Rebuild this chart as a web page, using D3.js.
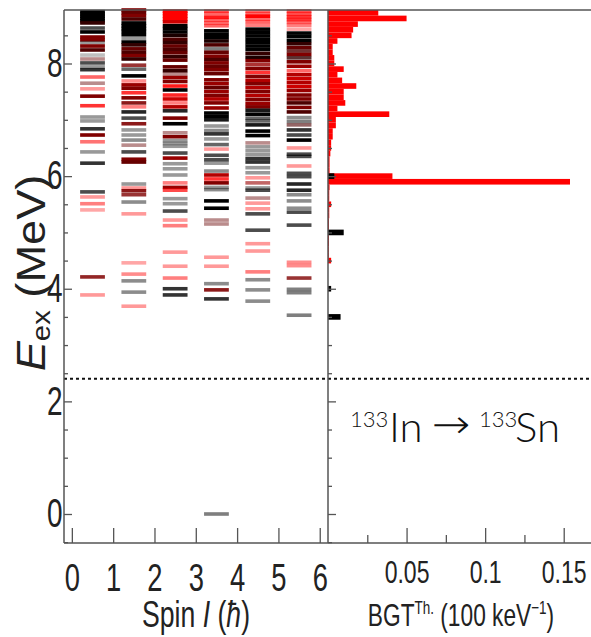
<!DOCTYPE html>
<html>
<head>
<meta charset="utf-8">
<script src="https://cdn.jsdelivr.net/npm/d3@7"></script>
<style>
  body { margin: 0; background: #fff; }
  svg { display: block; }
  .axis text { font-family: "Liberation Sans", Arial, sans-serif; fill: #222; }
  .axis line { stroke: #555; stroke-width: 1.3; }
  .axis path { display: none; }
</style>
</head>
<body>
<div id="chart"></div>
<script>
/* ********* ********* ********* ********* *********
 * Data
 * ********* ********* ********* ********* ********* */
// spin of each level column (hbar)
var spins = [0.5, 1.5, 2.5, 3.5, 4.5, 5.5];

// levels: [E_ex (MeV), red fraction 0..1, weight 0..1]
var levels_1_2 = [
  [8.92,0,1],[8.88,0,1],[8.84,0,1],[8.80,0,1],[8.76,0,1],[8.72,0.2,1],
  [8.63,0,0.7],[8.56,0,1],[8.47,0.5,1],[8.42,0.5,1],[8.37,0,0.4],[8.31,0.5,1],[8.24,0.3,1],
  [8.15,0,0.25],[8.08,0.4,0.45],[8.01,0,0.7],[7.94,0,0.4],[7.89,0,0.8],
  [7.76,1,0.6],[7.65,0.4,0.45],[7.55,1,0.4],[7.42,0.5,1],[7.25,1,0.8],
  [7.05,0,0.4],[6.98,0,0.4],[6.84,0,0.8],[6.73,0.5,1],[6.61,1,0.55],[6.43,0,0.4],[6.23,0,0.8],
  [5.72,0,0.7],[5.63,1,0.4],[5.51,1,0.5],[5.40,1,0.35],[4.21,0.5,0.85],[3.89,1,0.4]
];
var levels_3_2 = [
  [8.95,0.5,1],[8.90,0.4,1],[8.85,0.5,1],[8.79,0.3,1],
  [8.72,0,1],[8.67,0,1],[8.62,0,1],[8.57,0,1],[8.51,0,1],[8.44,0,0.4],[8.38,0,1],[8.33,0.2,1],
  [8.26,0.4,1],[8.20,0.3,1],[8.14,0.5,1],[8.08,0.2,1],
  [7.97,0.5,0.8],[7.90,0,0.6],[7.78,0,1],[7.69,1,0.45],[7.62,0.6,1],[7.56,0.5,1],[7.48,1,0.8],
  [7.39,0.5,1],[7.30,0.5,0.9],[7.23,1,0.5],[7.14,0,0.85],
  [7.03,0,0.7],[6.93,0.5,0.9],[6.82,0,0.4],[6.73,0,0.4],[6.64,0,0.45],[6.55,0.4,0.45],[6.43,0,0.7],
  [6.30,0.5,1],[6.25,0.4,1],
  [5.86,0,0.4],[5.79,1,0.4],[5.74,0.5,0.9],[5.67,0.5,0.8],[5.54,0,0.45],[5.33,1,0.4],
  [4.46,1,0.35],[4.26,1,0.45],[4.14,0,0.45],[3.94,0,0.45],[3.69,1,0.4]
];
var levels_5_2 = [
  [8.93,1,1],[8.89,1,1],[8.84,1,1],[8.79,1,1],[8.74,0.8,1],
  [8.67,0,1],[8.62,0,1],[8.56,0,1],[8.50,0.1,1],
  [8.43,0.3,1],[8.37,0.2,1],[8.31,0.4,1],[8.25,0.3,1],[8.19,0.4,1],[8.12,0.2,1],[8.06,0.4,1],
  [7.94,0.4,1],[7.87,0.2,1],[7.81,0.4,0.45],[7.75,0.6,1],[7.68,0.5,1],[7.60,1,0.9],[7.53,0,1],
  [7.44,1,0.85],[7.37,0.8,1],[7.30,1,0.5],[7.23,0.7,1],[7.16,0,0.85],[7.03,0.5,1],[6.93,0,1],
  [6.77,0.4,0.45],[6.70,0.5,1],[6.63,0,0.4],[6.58,0,0.4],[6.53,0,0.4],[6.41,0,0.7],[6.32,0.6,1],
  [6.22,0,0.4],[6.13,0,0.4],[6.02,0,0.4],
  [5.88,1,0.5],[5.80,0.6,1],[5.75,1,0.7],[5.60,0,0.4],[5.51,0,0.4],[5.38,0,0.7],[5.22,1,0.4],[5.12,1,0.5],
  [4.65,1,0.4],[4.40,1,0.4],[4.19,1,0.5],[4.00,0,0.8],[3.89,0,0.8]
];
var levels_7_2 = [
  [8.93,1,0.7],[8.88,1,0.6],[8.82,1,0.9],[8.77,1,0.6],[8.72,1,0.6],[8.67,1,0.6],
  [8.58,0,1],[8.52,0,1],[8.46,0,1],[8.40,0.1,1],[8.33,0.3,1],[8.26,0,0.5],
  [8.20,0.4,1],[8.13,0.5,1],[8.07,0.3,1],[8.01,0.5,1],[7.95,0.4,1],[7.89,0.5,1],[7.82,0.4,1],
  [7.71,0.5,1],[7.64,0.6,1],[7.57,0.4,1],[7.50,0.6,1],[7.43,0.5,1],[7.37,0.7,1],[7.30,0.5,1],[7.21,0.6,1],
  [7.12,0,1],[7.06,0,1],[7.00,0,0.9],[6.89,0,0.4],[6.81,0,0.45],[6.75,0,0.8],[6.66,0,0.4],[6.56,0,0.6],
  [6.48,1,0.4],[6.37,0,0.7],[6.29,0,0.7],[6.23,0,0.4],[6.09,0,0.45],
  [6.02,0.7,1],[5.95,1,0.8],[5.88,0.5,1],[5.80,0,0.4],[5.76,0,0.45],[5.56,0,1],[5.43,0,1],
  [5.22,0.4,0.45],[5.15,0.4,0.45],
  [4.56,1,0.4],[4.40,1,0.4],[4.09,0,0.45],[3.98,0.5,0.9],[3.82,0,0.8],
  [0.00,0,0.5]
];
var levels_9_2 = [
  [8.93,1,0.6],[8.88,1,0.6],[8.84,1,1],[8.79,1,0.6],[8.74,1,0.6],[8.68,1,0.5],
  [8.61,0,1],[8.55,0,1],[8.49,0,1],[8.43,0,1],[8.37,0,1],[8.31,0,1],[8.25,0,1],[8.18,0.2,1],[8.11,0.1,1],
  [8.05,0.5,1],[7.98,0.6,0.8],[7.91,0.5,1],[7.84,1,0.8],
  [7.77,0.5,1],[7.70,0.7,1],[7.64,0.5,1],[7.57,0.7,1],[7.50,0.5,1],[7.43,0.7,1],[7.36,0.5,1],[7.29,0.6,1],[7.23,0.5,1],
  [7.17,0,0.9],[7.10,0,1],[7.03,0,0.6],[6.98,0,0.6],[6.91,0,0.9],[6.80,0,1],[6.72,0,1],
  [6.59,0.4,0.45],[6.52,0,0.4],[6.45,0,0.4],[6.38,0,0.4],[6.31,0,0.8],[6.25,0,0.8],[6.15,0,0.4],[6.06,0,0.4],
  [5.97,1,0.4],[5.88,0.6,0.6],[5.79,0,0.4],[5.75,0,0.7],[5.61,0.4,0.45],[5.52,1,0.4],[5.42,1,0.4],
  [5.33,0,0.7],[5.04,0,0.7],
  [4.80,1,0.4],[4.67,1,0.4],[4.30,1,0.5],[4.16,0,0.45],[3.98,0,0.45],[3.78,0,0.45]
];
var levels_11_2 = [
  [8.93,1,0.7],[8.88,1,0.7],[8.83,1,0.8],[8.78,1,0.8],[8.73,1,0.6],[8.68,1,0.5],[8.61,1,0.35],
  [8.54,0,1],[8.48,0,1],[8.41,0,1],[8.35,0.2,1],
  [8.28,0.4,1],[8.22,0.3,0.8],[8.16,0.5,1],[8.10,0.2,0.8],[8.03,0.5,1],
  [7.95,0.6,1],[7.87,1,0.6],[7.80,0.7,1],[7.73,0.8,1],[7.66,0.7,1],[7.59,0.8,1],[7.52,0.6,1],
  [7.44,0.5,1],[7.37,0.5,1],[7.30,0.3,1],[7.22,0.5,1],[7.14,0.3,1],
  [7.04,0,0.45],[6.97,0,0.5],[6.91,0.3,0.6],[6.82,0,0.8],[6.73,0,0.7],[6.64,0,1],
  [6.50,1,0.4],[6.39,0,0.7],[6.35,0,0.7],[6.18,1,0.4],[6.05,0,0.7],[5.99,0,0.7],
  [5.86,0,0.85],[5.75,0,0.85],[5.67,0,0.45],[5.56,0,0.45],[5.43,0,0.45],[5.36,0,0.7],[5.13,0,0.7],
  [4.47,1,0.45],[4.41,1,0.45],[4.19,0.5,0.8],[3.99,0,0.5],[3.93,0,0.5],[3.53,0,0.5]
];
var levelsBySpin = [levels_1_2, levels_3_2, levels_5_2, levels_7_2, levels_9_2, levels_11_2];

// B(GT) strength histogram, 100 keV bins (bin centre in MeV)
var bgtEnergy = [8.9,8.8,8.7,8.6,8.5,8.4,8.3,8.2,8.1,8.0,7.9,7.8,7.7,7.6,7.5,7.4,7.3,7.2,7.1,7.0,
                 6.9,6.8,6.7,6.6,6.5,6.4,6.3,6.2,6.1,6.0,5.9,5.8,5.7,5.6,5.5,5.4,5.3,5.2,5.1,5.0,
                 4.9,4.8,4.7,4.6,4.5];
var bgtRed = [0.032,0.050,0.019,0.016,0.015,0.006,0.003,0.003,0.004,0.004,0.010,0.006,0.009,0.018,0.010,
              0.010,0.011,0.006,0.039,0.005,0.005,0.003,0.003,0.002,0.002,0.0015,0.001,0.001,0.001,0.041,
              0.154,0.001,0.0008,0.0008,0.002,0.0008,0.0008,0.0006,0.0006,0.0006,0.0006,0.0006,0.0005,0.0005,0.002];
var bgtBlackEnergy = [6.0, 5.0, 4.0, 3.5];
var bgtBlack = [0.004, 0.010, 0.002, 0.008];

var sn = 2.4;   // neutron separation energy (dotted line)

/* ********* ********* ********* ********* *********
 * Layout
 * ********* ********* ********* ********* ********* */
var W = 591, H = 637;
var mTop = 10, mBottom = 543, mLeft = 64, mMid = 328, mRight = 592;

var svg = d3.select("#chart").append("svg")
  .attr("width", W)
  .attr("height", H);

var x = d3.scaleLinear().domain([-0.19, 6.2]).range([mLeft, mMid]);
var y = d3.scaleLinear().domain([-0.515, 8.95]).range([mBottom, mTop]);
var xb = d3.scaleLinear().domain([0, 0.168]).range([mMid, mRight]);

var mix = d3.interpolateRgb("#000000", "#ff0000");
var halfW = 0.3, lineH = 3.6;

/* levels */
var cols = svg.append("g").attr("class", "levels")
  .selectAll("g")
  .data(levelsBySpin)
  .enter().append("g");

cols.selectAll("rect")
  .data(function(d, i) { return d.map(function(l) { return { s: spins[i], e: l[0], r: l[1], w: l[2] }; }); })
  .enter().append("rect")
    .attr("x", function(d) { return x(d.s - halfW); })
    .attr("width", function(d) { return x(d.s + halfW) - x(d.s - halfW); })
    .attr("y", function(d) { return y(d.e) - lineH / 2; })
    .attr("height", lineH)
    .style("fill", function(d) { return mix(d.r); })
    .style("fill-opacity", function(d) { return d.w; });

/* BGT histogram */
var binH = y(0) - y(0.1);
svg.append("g").selectAll("rect")
  .data(bgtEnergy)
  .enter().append("rect")
    .attr("x", mMid)
    .attr("y", function(d) { return y(d + 0.05); })
    .attr("height", binH)
    .attr("width", function(d, i) { return xb(bgtRed[i]) - mMid; })
    .style("fill", "#ff0000");

svg.append("g").selectAll("rect")
  .data(bgtBlackEnergy)
  .enter().append("rect")
    .attr("x", mMid)
    .attr("y", function(d) { return y(d + 0.05); })
    .attr("height", binH)
    .attr("width", function(d, i) { return xb(bgtBlack[i]) - mMid; })
    .style("fill", "#000");

/* Sn dotted line */
svg.append("line")
  .attr("x1", mLeft).attr("x2", mRight)
  .attr("y1", y(sn)).attr("y2", y(sn))
  .style("stroke", "#111")
  .style("stroke-width", 2)
  .style("stroke-dasharray", "3,3");

/* axes */
var majE = [0, 2, 4, 6, 8];
var minE = d3.range(-0.5, 9, 0.5).filter(function(v) { return majE.indexOf(v) < 0; });

var yl = svg.append("g").attr("class", "axis").attr("transform", "translate(" + mLeft + ",0)")
  .call(d3.axisLeft(y).tickValues(majE).tickSize(-8).tickPadding(2).tickFormat(d3.format("d")));
yl.selectAll("text").style("font-size", "40px").attr("transform", "scale(0.7,1)");
svg.append("g").attr("class", "axis").attr("transform", "translate(" + mLeft + ",0)")
  .call(d3.axisLeft(y).tickValues(minE).tickSize(-4).tickFormat(""));

svg.append("g").attr("class", "axis").attr("transform", "translate(" + mMid + ",0)")
  .call(d3.axisLeft(y).tickValues(majE).tickSize(-8).tickFormat(""));
svg.append("g").attr("class", "axis").attr("transform", "translate(" + mMid + ",0)")
  .call(d3.axisLeft(y).tickValues(minE).tickSize(-4).tickFormat(""));

var xl = svg.append("g").attr("class", "axis").attr("transform", "translate(0," + mBottom + ")")
  .call(d3.axisBottom(x).tickValues(d3.range(0, 7)).tickSize(-15).tickPadding(21).tickFormat(d3.format("d")));
xl.selectAll("text").style("font-size", "38px").attr("transform", "scale(0.72,1)");

var xr = svg.append("g").attr("class", "axis").attr("transform", "translate(0," + mBottom + ")")
  .call(d3.axisBottom(xb).tickValues([0.05, 0.1, 0.15]).tickSize(-15).tickPadding(17)
    .tickFormat(function(d) { return String(d); }));
xr.selectAll("text").style("font-size", "32px").attr("transform", "scale(0.72,1)");
svg.append("g").attr("class", "axis").attr("transform", "translate(0," + mBottom + ")")
  .call(d3.axisBottom(xb).tickValues([0.025, 0.075, 0.125]).tickSize(-8).tickFormat(""));

/* frame */
var frame = svg.append("g").style("stroke", "#555").style("stroke-width", 1.5);
frame.append("line").attr("x1", mLeft).attr("x2", mRight).attr("y1", mTop).attr("y2", mTop);
frame.append("line").attr("x1", mLeft).attr("x2", mRight).attr("y1", mBottom).attr("y2", mBottom);
frame.append("line").attr("x1", mLeft).attr("x2", mLeft).attr("y1", mTop).attr("y2", mBottom);
frame.append("line").attr("x1", mMid).attr("x2", mMid).attr("y1", mTop).attr("y2", mBottom);

/* titles */
var font = "'Liberation Sans', Arial, sans-serif";

var yt = svg.append("text")
  .attr("transform", "translate(45,273) rotate(-90) scale(1.13,1)")
  .attr("text-anchor", "middle")
  .style("font-family", font).style("font-size", "40px").style("fill", "#222");
yt.append("tspan").style("font-style", "italic").text("E");
yt.append("tspan").style("font-size", "26px").attr("dy", 5).text("ex");
yt.append("tspan").attr("dy", -5).text(" (MeV)");

var xt = svg.append("text")
  .attr("transform", "translate(196,627) scale(0.72,1)")
  .attr("text-anchor", "middle")
  .style("font-family", font).style("font-size", "37px").style("fill", "#222");
xt.append("tspan").text("Spin ");
xt.append("tspan").style("font-style", "italic").text("I");
xt.append("tspan").text(" (");
xt.append("tspan").style("font-style", "italic").text("\u0127");
xt.append("tspan").text(")");

var bt = svg.append("text")
  .attr("transform", "translate(461,626) scale(0.71,1)")
  .attr("text-anchor", "middle")
  .style("font-family", font).style("font-size", "32px").style("fill", "#222");
bt.append("tspan").text("BGT");
bt.append("tspan").style("font-size", "19px").attr("dy", -12).text("Th.");
bt.append("tspan").attr("dy", 12).text(" (100 keV");
bt.append("tspan").style("font-size", "19px").attr("dy", -12).text("\u22121");
bt.append("tspan").attr("dy", 12).text(")");

/* reaction label */
var lab = svg.append("g").style("font-family", "Lato, 'Noto Sans', sans-serif")
  .style("font-weight", 300).style("fill", "#111");
lab.append("text").attr("x", 350).attr("y", 427).style("font-size", "22px").text("133");
lab.append("text").attr("x", 389).attr("y", 442).style("font-size", "42px").text("In");
lab.append("text").attr("x", 432).attr("y", 438).style("font-family", "'DejaVu Sans', sans-serif")
  .style("font-weight", 200)
  .style("font-size", "40px").attr("transform", "translate(432,438) scale(1.15,1) translate(-432,-438)").text("\u2192");
lab.append("text").attr("x", 479).attr("y", 427).style("font-size", "22px").text("133");
lab.append("text").attr("x", 515).attr("y", 442).style("font-size", "42px").text("Sn");
</script>
</body>
</html>
